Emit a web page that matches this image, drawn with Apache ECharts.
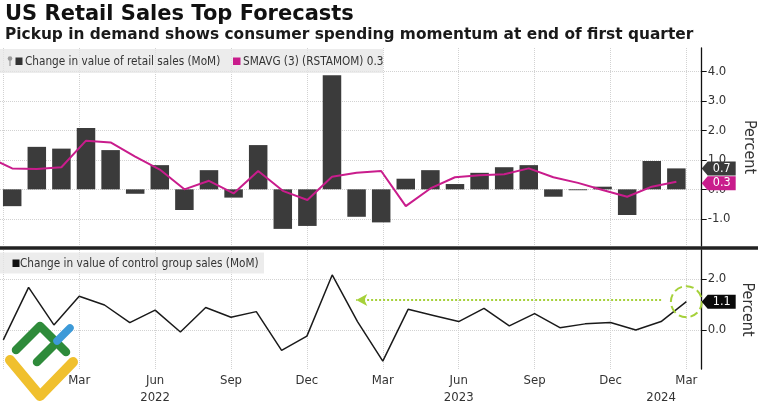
<!DOCTYPE html>
<html><head><meta charset="utf-8">
<script src="https://cdn.jsdelivr.net/npm/echarts@6/dist/echarts.min.js"></script>
<style>html,body{margin:0;padding:0;background:#fff}#c{width:758px;height:403px}</style>
</head><body><div id="c"></div>
<script>
// ---- data ----
const retailDates = ['2021-12','2022-01','2022-02','2022-03','2022-04','2022-05','2022-06','2022-07','2022-08','2022-09','2022-10','2022-11','2022-12',
  '2023-01','2023-02','2023-03','2023-04','2023-05','2023-06','2023-07','2023-08','2023-09','2023-10','2023-11','2023-12','2024-01','2024-02','2024-03'];
const retailSales = [-0.57, 1.44, 1.38, 2.08, 1.33, -0.15, 0.82, -0.70, 0.65, -0.28, 1.50, -1.34, -1.24,
  3.87, -0.93, -1.12, 0.36, 0.65, 0.18, 0.56, 0.75, 0.82, -0.25, -0.03, 0.09, -0.87, 0.96, 0.71];
const smavgDates = ['2021-11'].concat(retailDates);
const smavgValues = [1.10, 0.71, 0.69, 0.75, 1.65, 1.59, 1.11, 0.67, 0.00, 0.29, -0.14, 0.62, -0.05, -0.36,
  0.43, 0.56, 0.62, -0.57, 0.03, 0.41, 0.48, 0.51, 0.71, 0.41, 0.22, -0.02, -0.25, 0.09, 0.26];
const controlDates = retailDates;
const controlSales = [-0.39, 1.67, 0.20, 1.32, 0.98, 0.29, 0.78, -0.08, 0.88, 0.50, 0.72, -0.80, -0.24,
  2.16, 0.33, -1.22, 0.81, 0.57, 0.33, 0.85, 0.16, 0.64, 0.09, 0.24, 0.29, 0.00, 0.33, 1.11];
const monthTicks = ['2021-12','2022-03','2022-06','2022-09','2022-12','2023-03','2023-06','2023-09','2023-12','2024-03'];
const monthTickLabels = ['', 'Mar','Jun','Sep','Dec','Mar','Jun','Sep','Dec','Mar'];
const yearTicks = ['2022-06','2023-06','2024-02'];
const yearTickLabels = ['2022','2023','2024'];
const upperTicks = [-1, 0, 1, 2, 3, 4];
const lowerTicks = [0, 2];
const calloutArrow = { from: '2024-02', to: '2023-02', level: 1.18 };

// ---- helpers ----
const mi = s => { const [y, m] = s.split('-').map(Number); return (y - 2021) * 12 + m - 12; };
const tickIdx = monthTicks.map(mi);
const yearIdx = yearTicks.map(mi);
const FONT = "'DejaVu Sans Condensed','DejaVu Sans',sans-serif";
const GRID_C = '#d2d2d2';
const MAGENTA = '#c91c8c';

const chart = echarts.init(document.getElementById('c'), null, {renderer: 'canvas'});

const upMinX = -0.496, upMaxX = 28.03;
const loMinX = -0.1304, loMaxX = 27.605;

const option = {
  animation: false,
  backgroundColor: '#fff',
  grid: [
    {left: 0, right: 56.3, top: 48, height: 198, containLabel: false, outerBoundsMode: 'none'},
    {left: 0, right: 56.3, top: 250, height: 119, containLabel: false, outerBoundsMode: 'none'}
  ],
  xAxis: [
    {type: 'value', gridIndex: 0, min: upMinX, max: upMaxX, show: false},
    {type: 'value', gridIndex: 0, min: loMinX, max: loMaxX, position: 'bottom',
      axisLine: {show: false}, axisLabel: {show: false},
      axisTick: {show: false, customValues: tickIdx},
      splitLine: {show: true, lineStyle: {color: GRID_C, type: 'dotted', width: 1}}},
    {type: 'value', gridIndex: 1, min: loMinX, max: loMaxX, position: 'bottom',
      axisLine: {show: false},
      axisTick: {show: false, customValues: tickIdx},
      axisLabel: {customValues: tickIdx.slice(1), margin: 5, color: '#333', fontSize: 13, fontFamily: FONT,
        formatter: v => monthTickLabels[tickIdx.indexOf(v)]},
      splitLine: {show: true, lineStyle: {color: GRID_C, type: 'dotted', width: 1}}},
    {type: 'value', gridIndex: 1, min: loMinX, max: loMaxX, position: 'bottom', offset: 17,
      axisLine: {show: false}, axisTick: {show: false, customValues: yearIdx}, splitLine: {show: false},
      axisLabel: {customValues: yearIdx, margin: 5, color: '#333', fontSize: 13, fontFamily: FONT,
        formatter: v => yearTickLabels[yearIdx.indexOf(v)]}}
  ],
  yAxis: [
    {type: 'value', gridIndex: 0, position: 'right', min: -1.92, max: 4.79,
      axisLine: {show: true, onZero: false, lineStyle: {color: '#111', width: 1.3}},
      axisTick: {show: true, customValues: upperTicks, length: 5, lineStyle: {color: '#111'}},
      axisLabel: {customValues: upperTicks, margin: 6, color: '#333', fontSize: 13, fontFamily: FONT,
        formatter: v => v.toFixed(1)},
      splitLine: {show: true, lineStyle: {color: GRID_C, type: 'dotted', width: 1}},
      name: 'Percent', nameLocation: 'middle', nameRotate: -90, nameGap: 37,
      nameTextStyle: {color: '#333', fontSize: 16, fontFamily: FONT}},
    {type: 'value', gridIndex: 1, position: 'right', min: -1.53, max: 3.137,
      axisLine: {show: true, onZero: false, lineStyle: {color: '#111', width: 1.3}},
      axisTick: {show: true, customValues: lowerTicks, length: 5, lineStyle: {color: '#111'}},
      axisLabel: {customValues: lowerTicks, margin: 6, color: '#333', fontSize: 13, fontFamily: FONT,
        formatter: v => v.toFixed(1)},
      splitLine: {show: true, lineStyle: {color: GRID_C, type: 'dotted', width: 1}},
      name: 'Percent', nameLocation: 'middle', nameRotate: -90, nameGap: 37,
      nameTextStyle: {color: '#333', fontSize: 16, fontFamily: FONT}}
  ],
  series: [
    {type: 'bar', xAxisIndex: 0, yAxisIndex: 0, barWidth: 18.5,
      itemStyle: {color: '#3b3b3b'},
      data: retailDates.map((d, i) => [mi(d), retailSales[i]]),
      markPoint: {silent: true, symbol: 'path://M0,7L6,0L34,0L34,14L6,14Z', symbolSize: [34, 14], symbolOffset: [17, 0],
        itemStyle: {color: '#3b3b3b'},
        label: {show: true, position: 'inside', offset: [3, 0], color: '#fff', fontSize: 12.5, fontFamily: FONT,
          formatter: p => p.value.toFixed(1)},
        data: [{coord: [upMaxX, retailSales[retailSales.length - 1]], value: retailSales[retailSales.length - 1]}]}},
    {type: 'line', xAxisIndex: 0, yAxisIndex: 0, symbol: 'none', z: 3,
      lineStyle: {color: MAGENTA, width: 2}, itemStyle: {color: MAGENTA},
      data: smavgDates.map((d, i) => [mi(d), smavgValues[i]]),
      markPoint: {silent: true, symbol: 'path://M0,7L6,0L34,0L34,14L6,14Z', symbolSize: [34, 14], symbolOffset: [17, 1.5],
        itemStyle: {color: MAGENTA},
        label: {show: true, position: 'inside', offset: [3, 0], color: '#fff', fontSize: 12.5, fontFamily: FONT,
          formatter: p => p.value.toFixed(1)},
        data: [{coord: [upMaxX, smavgValues[smavgValues.length - 1]], value: smavgValues[smavgValues.length - 1]}]}},
    {type: 'line', xAxisIndex: 2, yAxisIndex: 1, symbol: 'none', z: 3,
      lineStyle: {color: '#1a1a1a', width: 1.5}, itemStyle: {color: '#1a1a1a'},
      data: controlDates.map((d, i) => [mi(d), controlSales[i]]),
      markLine: {silent: true, symbol: ['none', 'arrow'], symbolSize: [9, 11],
        lineStyle: {color: '#a6d13a', type: 'dotted', width: 2}, label: {show: false},
        data: [[{coord: [mi(calloutArrow.from), calloutArrow.level]}, {coord: [mi(calloutArrow.to) - 0.05, calloutArrow.level]}]]},
      markPoint: {silent: true, data: [
        {coord: [mi(controlDates[controlDates.length - 1]), controlSales[controlSales.length - 1]], symbol: 'circle', symbolSize: 31,
          itemStyle: {color: 'rgba(0,0,0,0)', borderColor: '#a6d13a', borderWidth: 2, borderType: 'dashed'}, label: {show: false}},
        {coord: [loMaxX, controlSales[controlSales.length - 1]], value: controlSales[controlSales.length - 1],
          symbol: 'path://M0,7L6,0L34,0L34,14L6,14Z', symbolSize: [34, 14], symbolOffset: [17, 0],
          itemStyle: {color: '#0a0a0a'},
          label: {show: true, position: 'inside', offset: [3, 0], color: '#fff', fontSize: 12.5, fontFamily: FONT,
            formatter: p => p.value.toFixed(1)}}
      ]}}
  ],
  graphic: [
    {type: 'text', left: 5, top: 4, style: {text: 'US Retail Sales Top Forecasts', font: "bold 21px 'DejaVu Sans'", fill: '#111'}},
    {type: 'text', left: 5, top: 27, style: {text: 'Pickup in demand shows consumer spending momentum at end of first quarter', font: "bold 15.4px 'DejaVu Sans'", fill: '#1a1a1a'}},
    // upper legend
    {type: 'rect', shape: {x: 0, y: 49, width: 383, height: 24}, style: {fill: 'rgba(228,228,228,0.72)'}, z: 10},
    {type: 'circle', shape: {cx: 10, cy: 58.5, r: 2.3}, style: {fill: '#9a9a9a'}, z: 11},
    {type: 'line', shape: {x1: 10, y1: 60, x2: 10, y2: 66}, style: {stroke: '#9a9a9a', lineWidth: 1.2}, z: 11},
    {type: 'rect', shape: {x: 15.5, y: 57.5, width: 7, height: 7.5}, style: {fill: '#333'}, z: 11},
    {type: 'text', x: 25, y: 61.5, style: {text: 'Change in value of retail sales (MoM)', font: "11.7px 'DejaVu Sans Condensed','DejaVu Sans'", fill: '#333', verticalAlign: 'middle'}, z: 11},
    {type: 'rect', shape: {x: 233, y: 57.5, width: 7.5, height: 7.5}, style: {fill: MAGENTA}, z: 11},
    {type: 'text', x: 243, y: 61.5, style: {text: 'SMAVG (3) (RSTAMOM) 0.3', font: "11.7px 'DejaVu Sans Condensed','DejaVu Sans'", fill: '#333', verticalAlign: 'middle'}, z: 11},
    // separator
    {type: 'line', shape: {x1: 0, y1: 248, x2: 758, y2: 248}, style: {stroke: '#222', lineWidth: 3.5}, z: 12},
    // lower legend
    {type: 'rect', shape: {x: 0, y: 252.5, width: 264, height: 21}, style: {fill: 'rgba(228,228,228,0.72)'}, z: 10},
    {type: 'rect', shape: {x: 12.5, y: 259.5, width: 7, height: 7.5}, style: {fill: '#111'}, z: 11},
    {type: 'text', x: 20, y: 263.5, style: {text: 'Change in value of control group sales (MoM)', font: "11.7px 'DejaVu Sans Condensed','DejaVu Sans'", fill: '#333', verticalAlign: 'middle'}, z: 11},
    // watermark logo
    {type: 'polyline', shape: {points: [[10, 360], [40, 396], [73, 362]]}, style: {stroke: '#f0c02e', lineWidth: 10, lineCap: 'round', lineJoin: 'round', fill: null}, z: 20},
    {type: 'polyline', shape: {points: [[16, 350], [40, 326], [66, 352]]}, style: {stroke: '#2e8b3a', lineWidth: 8.5, lineCap: 'round', lineJoin: 'round', fill: null}, z: 21},
    {type: 'line', shape: {x1: 37, y1: 362, x2: 53, y2: 346}, style: {stroke: '#2e8b3a', lineWidth: 8.5, lineCap: 'round'}, z: 21},
    {type: 'line', shape: {x1: 57, y1: 341, x2: 70, y2: 328}, style: {stroke: '#3d9ad8', lineWidth: 7.5, lineCap: 'round'}, z: 21}
  ]
};
chart.setOption(option);
</script></body></html>
